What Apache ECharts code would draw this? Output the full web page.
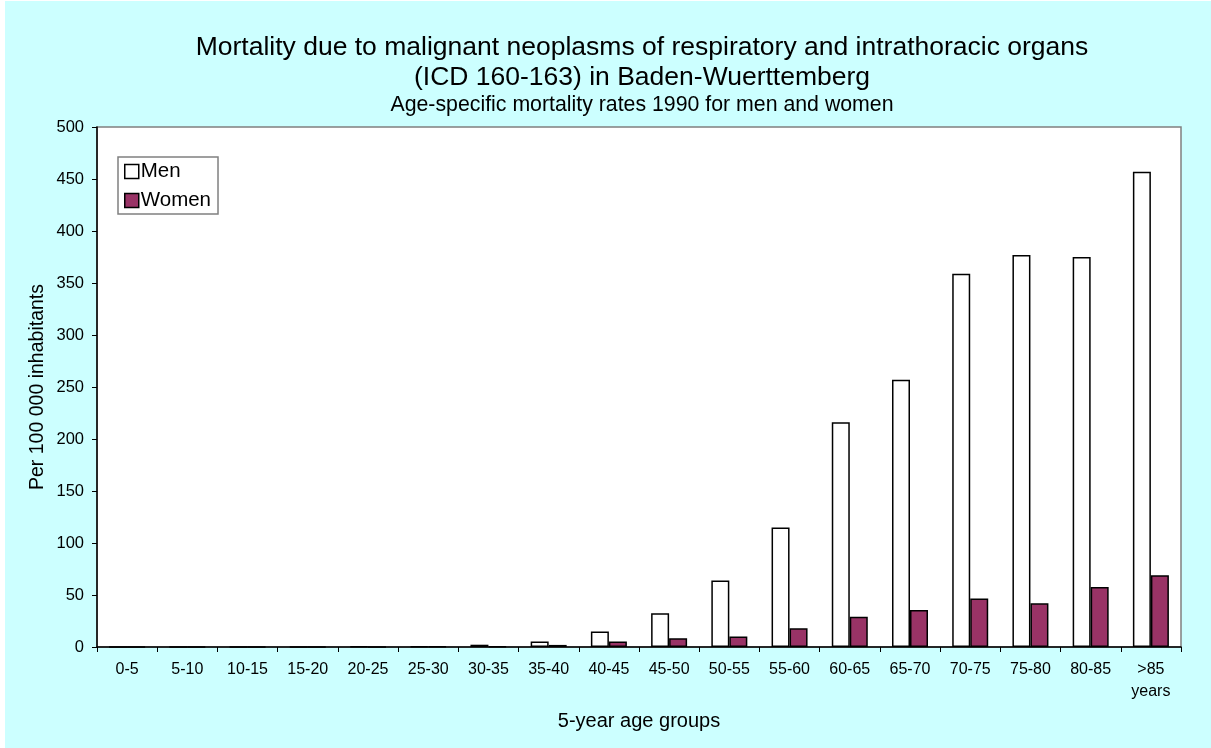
<!DOCTYPE html>
<html>
<head>
<meta charset="utf-8">
<script src="https://cdn.jsdelivr.net/npm/echarts@6/dist/echarts.min.js"></script>
<style>
  html, body { margin: 0; padding: 0; background: #ffffff; }
  #chart { position: absolute; left: 5px; top: 1px; width: 1206px; height: 747px; }
</style>
</head>
<body>
<div id="chart"></div>
<script>
// Age groups (5-year bands)
const ageGroups = ['0-5', '5-10', '10-15', '15-20', '20-25', '25-30', '30-35', '35-40', '40-45',
  '45-50', '50-55', '55-60', '60-65', '65-70', '70-75', '75-80', '80-85', '>85\nyears'];

// Age-specific mortality rates 1990, per 100 000 inhabitants
const men = [0, 0, 0, 0, 0.5, 0.7, 2.2, 5.2, 15, 32.5, 64, 115, 216, 257, 359, 377, 375, 457];
const women = [0, 0, 0, 0, 0, 0.3, 0.6, 2, 5.4, 8.4, 10, 18, 29, 35.5, 46.7, 42, 57.6, 69];

const yTicks = { min: 0, max: 500, interval: 50 };

const font = 'Liberation Sans, Arial, sans-serif';
const chart = echarts.init(document.getElementById('chart'));

chart.setOption({
  backgroundColor: '#ccffff',
  animation: false,
  textStyle: { fontFamily: font, color: '#000' },
  title: [
    {
      text: 'Mortality due to malignant neoplasms of respiratory and intrathoracic organs\n(ICD 160-163) in Baden-Wuerttemberg',
      left: 632, top: 27, textAlign: 'center',
      textStyle: { fontFamily: font, fontSize: 26.5, fontWeight: 'normal', lineHeight: 30, color: '#000' }
    },
    {
      text: 'Age-specific mortality rates 1990 for men and women',
      left: 632, top: 88, textAlign: 'center',
      textStyle: { fontFamily: font, fontSize: 21.3, fontWeight: 'normal', lineHeight: 22, color: '#000' }
    }
  ],
  legend: {
    orient: 'vertical',
    left: 113, top: 156,
    backgroundColor: '#ffffff',
    borderColor: '#808080', borderWidth: 1.5,
    padding: [4, 7, 3, 6],
    itemGap: 8,
    itemWidth: 14, itemHeight: 14,
    icon: 'rect',
    textStyle: { fontFamily: font, fontSize: 20.5, color: '#000', padding: [0, 0, 0, -3] },
    data: [
      { name: 'Men', itemStyle: { color: '#ffffff', borderColor: '#000', borderWidth: 1.5 } },
      { name: 'Women', itemStyle: { color: '#993366', borderColor: '#000', borderWidth: 1.5 } }
    ]
  },
  grid: {
    left: 92, top: 126, right: 30, bottom: 101,
    show: true, backgroundColor: '#ffffff', borderColor: '#808080', borderWidth: 1.5
  },
  xAxis: {
    type: 'category',
    data: ageGroups,
    name: '5-year age groups',
    nameLocation: 'middle',
    nameGap: 64,
    nameTextStyle: { fontFamily: font, fontSize: 20, color: '#000' },
    axisLine: { lineStyle: { color: '#000', width: 1.5 } },
    axisTick: { show: true, length: 5, lineStyle: { color: '#000' } },
    axisLabel: { fontFamily: font, fontSize: 16, color: '#000', margin: 12, interval: 0, lineHeight: 22 },
    splitLine: { show: false }
  },
  yAxis: {
    type: 'value',
    min: yTicks.min, max: yTicks.max, interval: yTicks.interval,
    name: 'Per 100 000 inhabitants',
    nameLocation: 'middle',
    nameGap: 49,
    nameMoveOverlap: false,
    nameTextStyle: { fontFamily: font, fontSize: 19.5, color: '#000' },
    axisLine: { show: true, lineStyle: { color: '#000', width: 1.5 } },
    axisTick: { show: true, length: 5, lineStyle: { color: '#000' } },
    axisLabel: { fontFamily: font, fontSize: 16.5, color: '#000', margin: 13 },
    splitLine: { show: false }
  },
  series: [
    {
      name: 'Men', type: 'bar', data: men,
      barWidth: 18, barGap: '0%',
      itemStyle: { color: '#ffffff', borderColor: '#000', borderWidth: 1.5 }
    },
    {
      name: 'Women', type: 'bar', data: women,
      barWidth: 18, barGap: '0%',
      itemStyle: { color: '#993366', borderColor: '#000', borderWidth: 1.5 }
    }
  ]
});
</script>
</body>
</html>
